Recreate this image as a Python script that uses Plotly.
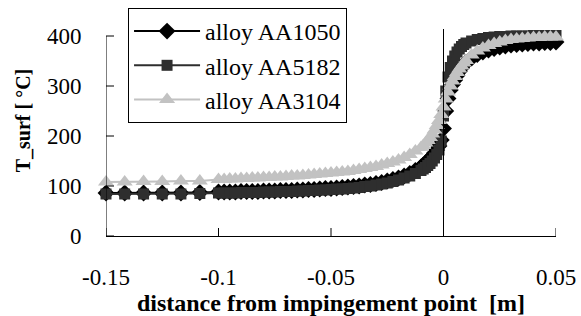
import plotly.graph_objects as go

# distance from impingement point [m]
x_m = [-0.15, -0.1417, -0.1333, -0.125, -0.1167, -0.1083,
       -0.1, -0.0975, -0.095, -0.0925, -0.09, -0.0875, -0.085, -0.0825, -0.08, -0.0775,
       -0.075, -0.0725, -0.07, -0.0675, -0.065, -0.0625, -0.06, -0.0575, -0.055, -0.0525,
       -0.05, -0.0475, -0.045, -0.0425, -0.04, -0.0375, -0.035, -0.0325, -0.03, -0.0275,
       -0.025, -0.0225, -0.02, -0.0175, -0.015, -0.0125,
       -0.01, -0.009, -0.008, -0.007, -0.006, -0.005, -0.004, -0.003, -0.002, -0.001,
       0.0, 0.001, 0.002, 0.003, 0.004, 0.005, 0.006, 0.007, 0.008, 0.009, 0.01,
       0.0125, 0.015, 0.0175, 0.02, 0.0225, 0.025, 0.0275, 0.03, 0.0325, 0.035, 0.0375,
       0.04, 0.0425, 0.045, 0.0475, 0.05]

aa1050 = [86, 86, 86, 86, 86, 87,
          88, 88, 88, 88, 89, 89, 89, 89, 90, 90,
          90, 91, 91, 91, 92, 92, 93, 93, 94, 95,
          95, 96, 97, 98, 99, 100, 102, 103, 105, 107,
          110, 113, 116, 120, 125, 131,
          138, 142, 146, 150, 155, 160, 166, 172, 180, 192,
          215, 250, 275, 292, 303, 312, 321, 329, 336, 342, 347,
          356, 363, 368, 372, 375, 378, 380, 382, 383, 384, 385,
          386, 386, 387, 387, 388]

aa5182 = [84, 84, 84, 84, 84, 85,
          86, 86, 86, 86, 87, 87, 87, 87, 88, 88,
          88, 89, 89, 89, 90, 90, 91, 91, 92, 92,
          93, 94, 94, 95, 96, 97, 99, 100, 102, 104,
          106, 109, 112, 116, 120, 125,
          131, 134, 137, 141, 145, 150, 156, 163, 172, 190,
          240, 290, 318, 337, 350, 360, 368, 374, 379, 383, 386,
          390, 393, 395, 397, 398, 399, 399, 400, 400, 400, 400,
          401, 401, 401, 401, 401]

aa3104 = [108, 108, 109, 109, 110, 110,
          113, 113, 114, 114, 115, 115, 116, 116, 117, 117,
          118, 118, 119, 120, 120, 121, 122, 123, 124, 125,
          126, 127, 128, 129, 131, 133, 135, 137, 139, 142,
          145, 148, 152, 157, 163, 170,
          177, 181, 186, 191, 197, 204, 212, 221, 231, 243,
          258, 274, 288, 300, 310, 319, 327, 334, 340, 346, 351,
          362, 370, 376, 381, 385, 388, 391, 393, 394, 395, 396,
          397, 397, 398, 398, 398]

x_ticks = [-0.15, -0.1, -0.05, 0, 0.05]
x_tick_text = ["-0.15", "-0.1", "-0.05", "0", "0.05"]
y_ticks = [0, 100, 200, 300, 400]
y_tick_text = ["0", "100", "200", "300", "400"]
y_axis_top = 400
y_view_top = 462
marker_line_top = 414

series = [
    ("alloy AA1050", aa1050, "#000000", "diamond", 13),
    ("alloy AA5182", aa5182, "#2e2e2e", "square", 11),
    ("alloy AA3104", aa3104, "#c2c2c2", "triangle-up", 14),
]

FONT = "Liberation Serif, Times New Roman, serif"

fig = go.Figure()
for name, ys, col, sym, sz in series:
    fig.add_trace(go.Scatter(
        x=x_m, y=ys, name=name, mode="lines+markers",
        line=dict(color=col, width=2),
        marker=dict(symbol=sym, size=sz, color=col, line=dict(width=0)),
        cliponaxis=False,
    ))

shapes = []
for t in x_ticks:
    shapes.append(dict(type="line", xref="x", yref="y", ysizemode="pixel", yanchor=0,
                       x0=t, x1=t, y0=-8, y1=8, line=dict(color="black", width=1)))
shapes.append(dict(type="line", xref="x", yref="y", x0=x_ticks[0], x1=x_ticks[0],
                   y0=0, y1=y_axis_top, line=dict(color="black", width=1)))
for t in y_ticks:
    shapes.append(dict(type="line", xref="x", yref="y", xsizemode="pixel", xanchor=x_ticks[0],
                       x0=-8, x1=8, y0=t, y1=t, line=dict(color="black", width=1)))
shapes.append(dict(type="line", xref="x", yref="y", x0=0, x1=0, y0=0, y1=marker_line_top,
                   line=dict(color="black", width=1)))

fig.update_layout(
    width=581, height=316,
    margin=dict(l=106, r=25, t=5, b=80),
    paper_bgcolor="white", plot_bgcolor="white",
    font=dict(family=FONT, size=23, color="black"),
    shapes=shapes,
    showlegend=True,
    legend=dict(
        x=0.049, y=(236 - 8) / 231, xanchor="left", yanchor="top",
        bgcolor="white", bordercolor="black", borderwidth=1,
        font=dict(family=FONT, size=24, color="black"),
        itemwidth=66, tracegroupgap=0,
    ),
    xaxis=dict(
        range=[-0.15, 0.05], showgrid=False, zeroline=False, automargin=False,
        showline=True, linecolor="black", linewidth=1,
        tickmode="array", tickvals=x_ticks, ticktext=x_tick_text,
        ticks="outside", ticklen=20, tickcolor="rgba(0,0,0,0)",
        tickfont=dict(family=FONT, size=23),
        title=dict(text="<b>distance from impingement point  [m]</b>",
                   font=dict(family=FONT, size=24), standoff=9),
    ),
    yaxis=dict(
        range=[0, y_view_top], showgrid=False, zeroline=False, automargin=False,
        showline=False,
        tickmode="array", tickvals=y_ticks, ticktext=y_tick_text,
        ticks="outside", ticklen=19, tickcolor="rgba(0,0,0,0)",
        tickfont=dict(family=FONT, size=23),
        title=dict(text="<b>T_surf [ °C]</b>",
                   font=dict(family=FONT, size=20), standoff=10),
    ),
)

fig.write_html("out.html", config={"displayModeBar": False},
               post_script="document.body.style.margin='0';")
